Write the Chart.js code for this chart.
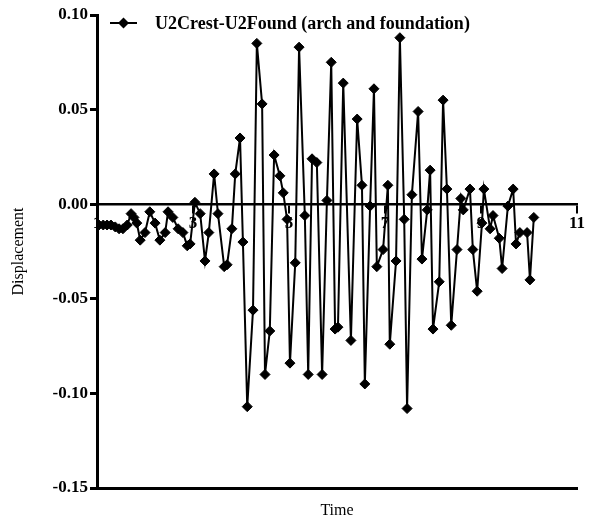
<!DOCTYPE html>
<html>
<head>
<meta charset="utf-8">
<script src="https://cdn.jsdelivr.net/npm/chart.js@4.4.0/dist/chart.umd.min.js"></script>
<style>
  html, body { margin: 0; padding: 0; background: #fff; }
</style>
</head>
<body>
<canvas id="chart" width="594" height="524"></canvas>
<script>
// series
const seriesLabel = 'U2Crest-U2Found (arch and foundation)';
const times = [
  1.04, 1.13, 1.21, 1.29, 1.38, 1.46, 1.54, 1.63, 1.71, 1.77,
  1.83, 1.90, 2.00, 2.10, 2.21, 2.31, 2.42, 2.48, 2.58, 2.69,
  2.79, 2.88, 2.94, 3.04, 3.15, 3.25, 3.33, 3.44, 3.52, 3.65,
  3.71, 3.81, 3.88, 3.98, 4.04, 4.13, 4.25, 4.33, 4.44, 4.50,
  4.60, 4.69, 4.81, 4.88, 4.96, 5.02, 5.13, 5.21, 5.33, 5.40,
  5.48, 5.58, 5.69, 5.79, 5.88, 5.96, 6.02, 6.13, 6.29, 6.42,
  6.52, 6.58, 6.69, 6.77, 6.83, 6.96, 7.06, 7.10, 7.23, 7.31,
  7.40, 7.46, 7.56, 7.69, 7.77, 7.88, 7.94, 8.00, 8.13, 8.21,
  8.29, 8.38, 8.50, 8.58, 8.63, 8.77, 8.83, 8.92, 9.02, 9.06,
  9.19, 9.25, 9.38, 9.44, 9.56, 9.67, 9.73, 9.81, 9.96, 10.02,
  10.10
];
const displacement = [
  -0.011, -0.011, -0.011, -0.011, -0.012, -0.013, -0.013, -0.011, -0.005, -0.007,
  -0.010, -0.019, -0.015, -0.004, -0.010, -0.019, -0.015, -0.004, -0.007, -0.013,
  -0.015, -0.022, -0.021, 0.001, -0.005, -0.030, -0.015, 0.016, -0.005, -0.033,
  -0.032, -0.013, 0.016, 0.035, -0.020, -0.107, -0.056, 0.085, 0.053, -0.090,
  -0.067, 0.026, 0.015, 0.006, -0.008, -0.084, -0.031, 0.083, -0.006, -0.090,
  0.024, 0.022, -0.090, 0.002, 0.075, -0.066, -0.065, 0.064, -0.072, 0.045,
  0.010, -0.095, -0.001, 0.061, -0.033, -0.024, 0.010, -0.074, -0.030, 0.088,
  -0.008, -0.108, 0.005, 0.049, -0.029, -0.003, 0.018, -0.066, -0.041, 0.055,
  0.008, -0.064, -0.024, 0.003, -0.003, 0.008, -0.024, -0.046, -0.010, 0.008,
  -0.013, -0.006, -0.018, -0.034, -0.001, 0.008, -0.021, -0.015, -0.015, -0.040,
  -0.007
];
const xTicks = [1, 3, 5, 7, 9, 11];
const yTicks = [-0.15, -0.10, -0.05, 0.00, 0.05, 0.10];
const xTitle = 'Time';
const yTitle = 'Displacement';

const serif = "'Liberation Serif', 'Times New Roman', serif";

// legend drawn inside the plot, top left
const insideLegend = {
  id: 'insideLegend',
  afterDraw(chart) {
    const ctx = chart.ctx;
    const a = chart.chartArea;
    const x0 = a.left + 13, x1 = a.left + 40, y = a.top + 8;
    ctx.save();
    ctx.strokeStyle = '#000';
    ctx.fillStyle = '#000';
    ctx.lineWidth = 2;
    ctx.beginPath();
    ctx.moveTo(x0, y);
    ctx.lineTo(x1, y);
    ctx.stroke();
    const cx = (x0 + x1) / 2, r = 5.5;
    ctx.beginPath();
    ctx.moveTo(cx, y - r); ctx.lineTo(cx + r, y); ctx.lineTo(cx, y + r); ctx.lineTo(cx - r, y);
    ctx.closePath();
    ctx.fill();
    ctx.font = 'bold 18px ' + serif;
    ctx.textBaseline = 'middle';
    ctx.fillText(chart.data.datasets[0].label, a.left + 58, y + 1);
    ctx.restore();
  }
};

new Chart(document.getElementById('chart'), {
  type: 'line',
  data: {
    datasets: [{
      label: seriesLabel,
      data: times.map((t, i) => ({ x: t, y: displacement[i] })),
      borderColor: '#000',
      backgroundColor: '#000',
      borderWidth: 2,
      pointStyle: 'rectRot',
      pointRadius: 5,
      pointBorderWidth: 1,
      tension: 0,
      xAxisID: 'x'
    }]
  },
  options: {
    responsive: false,
    animation: false,
    events: [],
    layout: { padding: { left: 0, top: 15, right: 17, bottom: 0 } },
    plugins: { legend: { display: false }, tooltip: { enabled: false } },
    scales: {
      x: {
        type: 'linear',
        min: 1, max: 11,
        position: 'bottom',
        grid: { display: false },
        border: { display: true, color: '#000', width: 3 },
        ticks: { display: false },
        title: { display: true, text: xTitle, color: '#000', font: { family: serif, size: 16 }, padding: { top: 17 } },
        afterFit(s) { s.height = 36; }
      },
      xZero: {
        type: 'linear',
        min: 1, max: 11,
        position: { y: 0 },
        grid: { drawOnChartArea: false, drawTicks: true, tickLength: 8, color: '#000', lineWidth: 2 },
        border: { display: true, color: '#000', width: 2.5 },
        ticks: { color: '#000', font: { family: serif, size: 17, weight: 'bold' }, padding: 1, maxRotation: 0, autoSkip: false },
        afterBuildTicks(s) { s.ticks = xTicks.map(v => ({ value: v })); }
      },
      y: {
        type: 'linear',
        min: -0.15, max: 0.10,
        grid: { drawOnChartArea: false, drawTicks: true, tickLength: 7, color: '#000', lineWidth: 3 },
        border: { display: true, color: '#000', width: 3 },
        ticks: {
          color: '#000',
          font: { family: serif, size: 17, weight: 'bold' },
          padding: 2,
          autoSkip: false,
          callback: v => v.toFixed(2)
        },
        afterBuildTicks(s) { s.ticks = yTicks.map(v => ({ value: v })); },
        title: { display: true, text: yTitle, color: '#000', font: { family: serif, size: 16 }, padding: { top: 9, bottom: 0 } },
        afterFit(s) { s.width = 97; }
      }
    }
  },
  plugins: [insideLegend]
});
</script>
</body>
</html>
